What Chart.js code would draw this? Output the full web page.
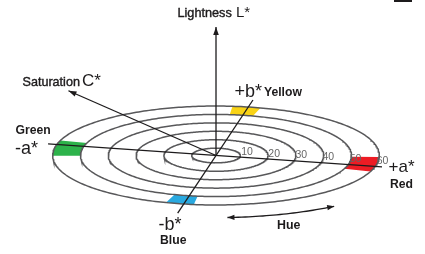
<!DOCTYPE html>
<html>
<head>
<meta charset="utf-8">
<script src="https://cdn.jsdelivr.net/npm/chart.js@4.4.1/dist/chart.umd.min.js"></script>
<style>
  html, body { margin: 0; padding: 0; background: #fff; }
  #wrap { width: 425px; height: 254px; }
</style>
</head>
<body>
<div id="wrap"><canvas id="lab" width="425" height="254"></canvas></div>
<script>
// chroma rings (C*) and their tick labels
const rings = [10, 20, 30, 40, 50, 60];
const ringLabels = ['10', '20', '30', '40', '50', '60'];

// a*/b* axes: hue angle of each half-axis and how far (in chroma) it reaches
const axisHues = [0, 91.4, 180, 271.4];
const axisReach = [62.5, 68.5, 63.2, 71];

// colour patches sitting in the 50-60 band
const patchHues = [[-6, 11], [87, 97], [175, 193], [265, 275]];
const patchColours = ['#ed1c24', '#f9d316', '#2db34b', '#29a9e0'];
const patchBand = [50, 60];

// lightness axis, saturation arrow (chroma, hue, L) and hue arrow (hue from/to, chroma)
const lightnessRange = [0, 100];
const saturationTip = [64.4, 160, 28];
const hueArc = [286, 318];
const hueArcChroma = 75;

// oblique view of the a*b* plane
const TILT = 12.8, FLAT = 0.303, LIFT = 0.462, CORE = 1.26;
function project(c, hue, L) {
  const r = Math.max(0, c - CORE);
  const t = (TILT - hue) * Math.PI / 180;
  return { x: r * Math.cos(t), y: -r * FLAT * Math.sin(t) + (L || 0) * LIFT };
}

const ink = '#1d1b1c';
const ringInk = '#58585a';

function hueSweep(c, from, to) {
  const pts = [];
  const step = from < to ? 1 : -1;
  for (let h = from; step > 0 ? h <= to : h >= to; h += step) pts.push(project(c, h, 0));
  return pts;
}

const datasets = [];

// axes lines (drawn on top)
for (let i = 0; i < 2; i++) {
  datasets.push({
    data: [project(axisReach[i + 2], axisHues[i + 2], 0), project(axisReach[i], axisHues[i], 0)],
    borderColor: ink, borderWidth: 1.3
  });
}
datasets.push({
  data: [project(0, 0, lightnessRange[0]), project(0, 0, lightnessRange[1])],
  borderColor: ink, borderWidth: 1.3
});
datasets.push({
  data: [project(0, 0, 0), project(saturationTip[0], saturationTip[1], saturationTip[2])],
  borderColor: ink, borderWidth: 1.3
});
datasets.push({
  data: hueSweep(hueArcChroma, hueArc[0], hueArc[1]),
  borderColor: ink, borderWidth: 1.3
});

// rings
rings.forEach(c => {
  datasets.push({ data: hueSweep(c, 0, 360), borderColor: ringInk, borderWidth: 1.5 });
});

// patches (drawn underneath)
patchHues.forEach((h, i) => {
  const pts = hueSweep(patchBand[1], h[0], h[1]).concat(hueSweep(patchBand[0], h[1], h[0]));
  pts.push(pts[0]);
  datasets.push({
    data: pts, borderWidth: 0, borderColor: patchColours[i],
    backgroundColor: patchColours[i], fill: 'shape'
  });
});

datasets.forEach(d => {
  d.showLine = true;
  d.pointRadius = 0;
  d.tension = 0;
  if (d.fill === undefined) d.fill = false;
});

function arrowHead(ctx, tip, from, len, half) {
  const dx = tip.x - from.x, dy = tip.y - from.y;
  const d = Math.hypot(dx, dy) || 1;
  const ux = dx / d, uy = dy / d;
  ctx.beginPath();
  ctx.moveTo(tip.x, tip.y);
  ctx.lineTo(tip.x - ux * len - uy * half, tip.y - uy * len + ux * half);
  ctx.lineTo(tip.x - ux * len + uy * half, tip.y - uy * len - ux * half);
  ctx.closePath();
  ctx.fill();
}

const FONT = "'Liberation Sans', Arial, Helvetica, sans-serif";
const texts = [
  { s: 'Lightness', x: 177.5, y: 17, size: 12.7, w: 'medium' },
  { s: 'L*', x: 236, y: 17, size: 15, w: 'normal' },
  { s: 'Saturation', x: 22.5, y: 85.5, size: 12.6, w: 'medium' },
  { s: 'C*', x: 82, y: 85.5, size: 17, w: 'normal' },
  { s: 'Green', x: 15.5, y: 134, size: 12.2, w: 'bold' },
  { s: '-a*', x: 15, y: 154, size: 18, w: 'normal' },
  { s: '+b*', x: 234.5, y: 96.5, size: 18, w: 'normal' },
  { s: 'Yellow', x: 264, y: 96, size: 12.2, w: 'bold' },
  { s: '+a*', x: 388.5, y: 172, size: 17, w: 'normal' },
  { s: 'Red', x: 390, y: 187.5, size: 12.2, w: 'bold' },
  { s: '-b*', x: 158.5, y: 230, size: 18, w: 'normal' },
  { s: 'Blue', x: 160, y: 244, size: 12.2, w: 'bold' },
  { s: 'Hue', x: 277, y: 228.5, size: 12.4, w: 'bold' }
];

const decor = {
  id: 'decor',
  afterDatasetsDraw(chart) {
    const ctx = chart.ctx;
    const xs = chart.scales.x, ys = chart.scales.y;
    const px = p => ({ x: xs.getPixelForValue(p.x), y: ys.getPixelForValue(p.y) });
    ctx.save();
    ctx.fillStyle = ink;

    // arrow heads
    arrowHead(ctx, px(project(0, 0, lightnessRange[1])), px(project(0, 0, 0)), 8, 2.8);
    arrowHead(ctx, px(project(saturationTip[0], saturationTip[1], saturationTip[2])), px(project(0, 0, 0)), 8, 2.8);
    arrowHead(ctx, px(project(hueArcChroma, hueArc[0], 0)), px(project(hueArcChroma, hueArc[0] + 3, 0)), 7, 2.6);
    arrowHead(ctx, px(project(hueArcChroma, hueArc[1], 0)), px(project(hueArcChroma, hueArc[1] - 3, 0)), 7, 2.6);

    // ring labels along +a*
    ctx.fillStyle = '#666666';
    ctx.font = '10.5px ' + FONT;
    ctx.textBaseline = 'alphabetic';
    ctx.textAlign = 'left';
    rings.forEach((c, i) => {
      const p = px(project(c, 0, 0));
      ctx.fillText(ringLabels[i], p.x + 1.5, p.y - 2.5);
    });

    // titles
    ctx.fillStyle = ink;
    ctx.strokeStyle = ink;
    texts.forEach(t => {
      const weight = t.w === 'bold' ? 'bold ' : '';
      ctx.font = weight + t.size + 'px ' + FONT;
      ctx.fillText(t.s, t.x, t.y);
      if (t.w === 'medium') {
        ctx.lineWidth = 0.4;
        ctx.strokeText(t.s, t.x, t.y);
      }
    });

    // clipped frame edge in the top-right corner
    ctx.fillRect(394, 0, 18, 2);
    ctx.restore();
  }
};

new Chart(document.getElementById('lab'), {
  type: 'scatter',
  data: { datasets },
  options: {
    responsive: false,
    animation: false,
    events: [],
    layout: { padding: 0 },
    scales: {
      x: { type: 'linear', min: -77.7, max: 75.18, display: false },
      y: { type: 'linear', min: -35.43, max: 55.94, display: false }
    },
    plugins: { legend: { display: false }, tooltip: { enabled: false } }
  },
  plugins: [decor]
});
</script>
</body>
</html>
